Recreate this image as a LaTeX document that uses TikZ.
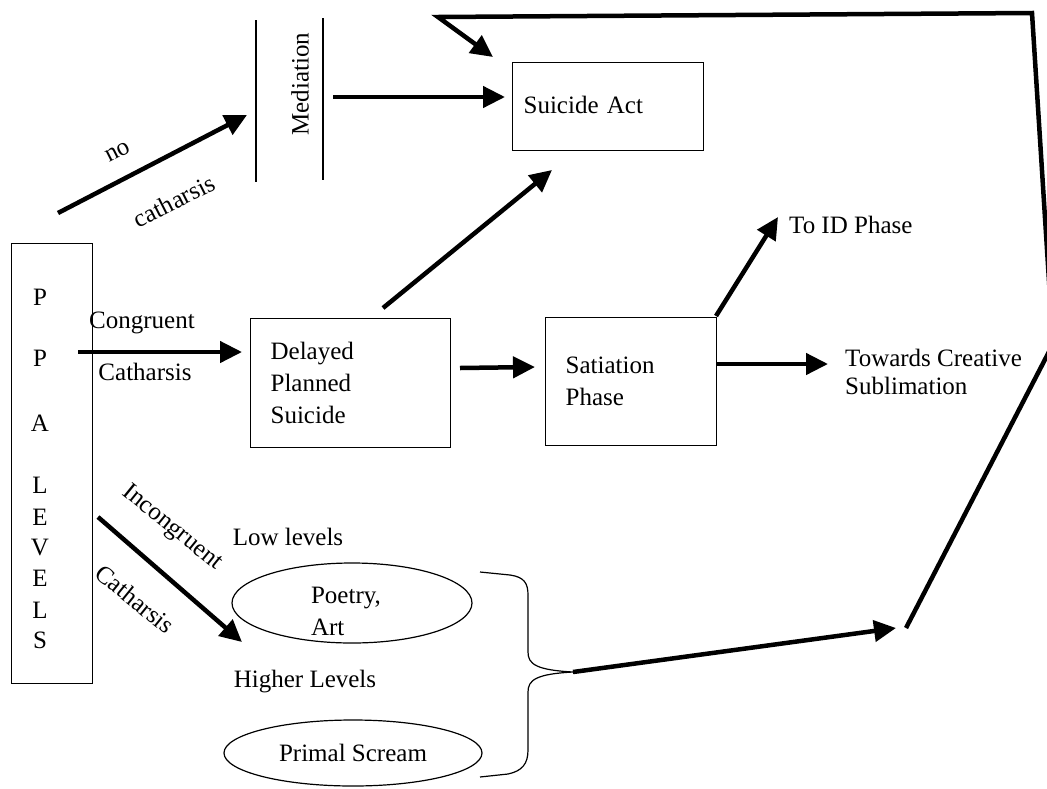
\documentclass[tikz,border=0pt]{standalone}
\usepackage{fontspec}
\setmainfont{Liberation Serif}
\usetikzlibrary{arrows.meta,shapes.geometric}
\begin{document}
\begin{tikzpicture}[x=1pt,y=-1pt,
  every node/.style={font=\fontsize{25}{32}\selectfont, inner sep=0pt},
  box/.style={draw, line width=1.2pt, rectangle, align=left, anchor=north west},
  ell/.style={draw, line width=1.2pt, ellipse, inner sep=0pt},
  arr/.style={line width=4.5pt, -{Triangle[length=22pt,width=21pt]}},
  thin/.style={line width=1.1pt}]
\useasboundingbox (0,0) rectangle (1047,788);
\fill[white] (0,0) rectangle (1047,788);
\clip (0,0) rectangle (1047,788);

% boxes
\node[box, minimum width=81pt, minimum height=440pt] (ppa) at (11,243) {};
\foreach \l/\yy [count=\i] in {P/297,P/358,A/423,L/485,E/517,V/547,E/578,L/610,S/640}
  \node (ppa\i) at (40,\yy) {\l};

\node[box, minimum width=191pt, minimum height=88pt, text width=169pt, inner xsep=11pt] (sa) at (512,62) {\raisebox{3pt}{Suicide Act}};
\node[box, minimum width=200pt, minimum height=129pt, text width=160pt, inner xsep=20pt] (dps) at (250,318) {Delayed\\Planned\\Suicide};
\node[box, minimum width=171pt, minimum height=128pt, text width=131pt, inner xsep=20pt] (sat) at (545,317) {Satiation\\Phase};

% mediation
\draw[thin] (256,20) coordinate (m1a) -- (256,182) coordinate (m1b);
\draw[thin] (323,18) coordinate (m2a) -- (323,180) coordinate (m2b);
\node[rotate=90] (med) at (300,84) {Mediation};

% ellipses
\node[ell, minimum width=240pt, minimum height=80pt] (poe) at (352,603) {};
\node[align=left] (poetxt) at (346,611) {Poetry,\\Art};
\node[ell, minimum width=258pt, minimum height=66pt] (pri) at (353,753) {\raisebox{-7pt}{Primal Scream}};

% free labels
\node[rotate=27] (lno) at (118,152) {no};
\node[rotate=27] (lcath) at (174,201) {catharsis};
\node (lcong) at (142,323) {Congruent};
\node (lcath2) at (145,372) {Catharsis};
\node[rotate=-39] (linc) at (172,528) {Incongruent};
\node[rotate=-39] (lcath3) at (135,599) {Catharsis};
\node (llow) at (288,537) {Low levels};
\node (lhigh) at (305,682) {Higher Levels};
\node[anchor=west] (toid) at (789,225) {To ID Phase};
\node[anchor=west, align=left, font=\fontsize{25}{28}\selectfont] (tcs) at (845,372) {Towards Creative\\Sublimation};

% connector end points
\coordinate (nc0) at (58,213);   \coordinate (nc1) at (247,115);
\coordinate (ms0) at (333,97);   \coordinate (ms1) at (505,97);
\coordinate (cg0) at (78,352);   \coordinate (cg1) at (242,352);
\coordinate (ds0) at (383,308);  \coordinate (ds1) at (552,170);
\coordinate (dt0) at (460,368);  \coordinate (dt1) at (535,367);
\coordinate (st0) at (717,364);  \coordinate (st1) at (828,364);
\coordinate (si0) at (716,316);  \coordinate (si1) at (778,217);
\coordinate (ic0) at (98,517);   \coordinate (ic1) at (242,642);
\coordinate (bt)  at (573,672);  \coordinate (bt1) at (896,628);
\coordinate (lp0) at (906,628);  \coordinate (lp1) at (1053,344);
\coordinate (lp2) at (1032,13);  \coordinate (lp3) at (438,17);
\coordinate (lp4) at (493,57);

% brace
\draw[line width=1.2pt] (480,572) -- (510,575) .. controls (524,577) and (528,583) .. (528,595)
  -- (528,652) .. controls (528,664) and (536,670) .. (bt)
  .. controls (536,674) and (528,680) .. (528,692)
  -- (528,750) .. controls (528,764) and (522,771) .. (508,774) -- (480,777);

% arrows
\draw[arr] (nc0) -- (nc1);
\draw[arr] (ms0) -- (ms1);
\draw[arr] (cg0) -- (cg1);
\draw[arr] (ds0) -- (ds1);
\draw[arr] (dt0) -- (dt1);
\draw[arr] (st0) -- (st1);
\draw[arr] (si0) -- (si1);
\draw[arr] (ic0) -- (ic1);
\draw[arr] (bt) -- (bt1);
\draw[arr, line join=miter] (lp0) -- (lp1) -- (lp2) -- (lp3) -- (lp4);
\end{tikzpicture}
\end{document}
